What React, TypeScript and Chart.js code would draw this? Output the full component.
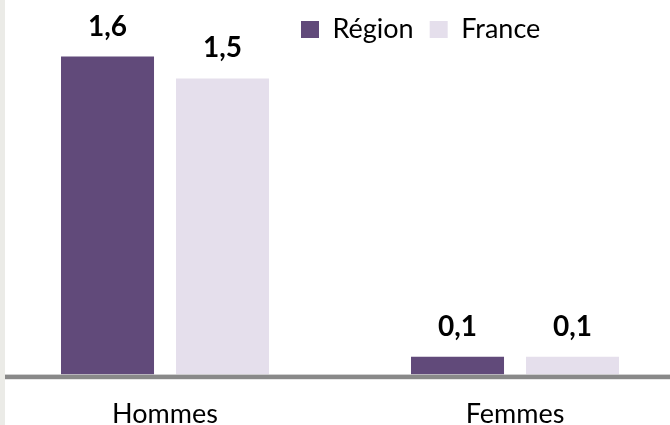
import React, { useEffect, useRef } from "react";
import { Chart, registerables } from "chart.js";

Chart.register(...registerables);

const categories = ["Hommes", "Femmes"];
const seriesNames = ["Région", "France"];
const regionValues = [1.6, 0.09];
const franceValues = [1.49, 0.09];
const seriesColors = ["#614a7a", "#e5dfec"];

const fmt = (v: number) => v.toFixed(1).replace(".", ",");

const valueLabels = {
  id: "valueLabels",
  afterDatasetsDraw(chart: any) {
    const ctx = chart.ctx;
    const area = chart.chartArea;
    ctx.save();
    ctx.fillStyle = "#898989";
    ctx.fillRect(area.left, area.bottom, area.right - area.left, 4.6);
    ctx.restore();

    ctx.save();
    ctx.font = "bold 28px Lato";
    ctx.fillStyle = "#000";
    ctx.textAlign = "center";
    ctx.textBaseline = "alphabetic";
    chart.data.datasets.forEach((ds: any, i: number) => {
      const meta = chart.getDatasetMeta(i);
      meta.data.forEach((el: any, j: number) => {
        ctx.fillText(fmt(ds.data[j]), el.x, el.y - 21);
      });
    });
    ctx.restore();
  },
};

const legendShift = {
  id: "legendShift",
  afterLayout(chart: any) {
    const lg = chart.legend;
    if (lg) {
      lg.left += 295;
      lg.right += 295;
    }
  },
};

export default function App() {
  const ref = useRef<HTMLCanvasElement | null>(null);

  useEffect(() => {
    if (!ref.current) return;
    const chart = new Chart(ref.current, {
      type: "bar",
      data: {
        labels: categories,
        datasets: [
          {
            label: seriesNames[0],
            data: regionValues,
            backgroundColor: seriesColors[0],
            categoryPercentage: 0.657,
            barPercentage: 0.809,
          },
          {
            label: seriesNames[1],
            data: franceValues,
            backgroundColor: seriesColors[1],
            categoryPercentage: 0.657,
            barPercentage: 0.809,
          },
        ],
      },
      options: {
        responsive: false,
        animation: false,
        layout: { padding: 0 },
        plugins: {
          legend: {
            position: "top",
            align: "start",
            labels: {
              boxWidth: 18,
              boxHeight: 17,
              padding: 16,
              color: "#000",
              font: { family: "Lato", size: 27 },
            },
          },
          tooltip: { enabled: false },
        },
        scales: {
          x: {
            grid: { display: false, drawTicks: false },
            border: { display: false },
            ticks: {
              padding: 23,
              color: "#000",
              font: { family: "Lato", size: 27 },
            },
          },
          y: {
            display: false,
            min: 0,
            max: 1.618,
          },
        },
      },
      plugins: [valueLabels, legendShift],
    });
    return () => chart.destroy();
  }, []);

  return (
    <div
      style={{
        position: "fixed",
        left: 0,
        top: 0,
        width: 670,
        height: 425,
        overflow: "hidden",
        background: "#fff",
      }}
    >
      <canvas
        ref={ref}
        width={700}
        height={453}
        style={{ position: "absolute", left: -10, top: 0 }}
      />
      <div
        style={{
          position: "absolute",
          left: 0,
          top: 0,
          width: 5,
          height: "100%",
          background: "#ebebe7",
        }}
      />
    </div>
  );
}
